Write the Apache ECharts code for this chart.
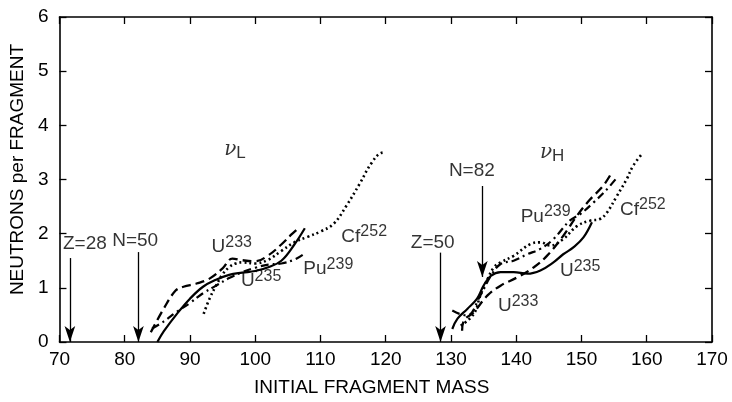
<!DOCTYPE html>
<html><head><meta charset="utf-8">
<script src="https://cdn.jsdelivr.net/npm/echarts@6/dist/echarts.min.js"></script>
<style>html,body{margin:0;padding:0;background:#fff}#c{width:732px;height:402px}</style>
</head><body><div id="c"></div>
<script>
// ---- data ----
const xTicks = [70, 80, 90, 100, 110, 120, 130, 140, 150, 160, 170];
const yTicks = [0, 1, 2, 3, 4, 5, 6];

// light fragment group (nu_L)
const U235_L = [[85,0],[86,0.2],[88,0.52],[90,0.8],[92,1.02],[94,1.15],[96,1.24],[98,1.28],[100,1.31],[102,1.38],[104,1.5],[106,1.8],[107.6,2.1]];
const U233_L = [[84,0.18],[86,0.62],[87.8,0.95],[89,1.02],[91,1.08],[93,1.17],[95,1.36],[96.5,1.54],[98,1.51],[100,1.49],[102,1.6],[104,1.8],[105.6,1.99],[106.8,2.12]];
const Pu239_L = [[84.2,0.25],[86,0.38],[88,0.56],[90,0.72],[92,0.9],[94,1.04],[96,1.18],[98,1.29],[100,1.37],[102,1.43],[104,1.45],[106,1.52],[107.4,1.62]];
const Cf252_L = [[92.1,0.52],[93,0.8],[94,1.04],[95,1.25],[96,1.38],[97,1.45],[98,1.47],[100,1.45],[102,1.52],[104,1.68],[106,1.84],[108,1.94],[110,2.04],[112,2.18],[114,2.52],[116,2.92],[117.8,3.3],[119.3,3.49],[120,3.5]];

// heavy fragment group (nu_H)
const U235_H = [[130.2,0.24],[131,0.43],[132.5,0.61],[134,0.8],[135,1.04],[136.1,1.22],[137.6,1.29],[139.6,1.29],[141.7,1.26],[143.7,1.32],[145.7,1.47],[147.2,1.62],[148.8,1.75],[150.3,1.93],[151.6,2.21]];
const U233_H = [[131.7,0.21],[132,0.4],[133.5,0.55],[135.6,0.86],[137.6,1.04],[140.1,1.19],[142.7,1.38],[144.7,1.59],[147.2,1.96],[149.3,2.33],[151.3,2.63],[153.3,2.88],[154.6,3.12]];
const Pu239_H = [[130.2,0.58],[131.3,0.52],[132.5,0.49],[134.5,0.86],[136.1,1.22],[137.6,1.44],[139.6,1.5],[141.7,1.62],[143.7,1.72],[145.7,1.9],[148.2,2.24],[149.8,2.36],[151.8,2.57],[153.9,2.82],[155.4,3.03]];
const Cf252_H = [[131.5,0.3],[133.5,0.52],[134.5,0.86],[135.6,1.16],[136.6,1.38],[137.6,1.47],[139.6,1.59],[142.2,1.81],[143.7,1.84],[145.2,1.78],[147.2,1.9],[149.3,2.14],[151.3,2.24],[152.8,2.27],[153.9,2.39],[155.4,2.69],[156.9,3.0],[157.9,3.25],[159.2,3.46]];

// shell-closure arrows: [mass, top of arrow]
const arrowMarks = [[71.6,1.55],[82.1,1.66],[128.4,1.65],[134.8,2.88]];
const arrowEnds = [0, 0, 0, 1.2];

// text labels: [x, y, text]
const labelTexts = [
  [73.9,1.81,'Z=28'],[81.6,1.86,'N=50'],[127.2,1.83,'Z=50'],[133.2,3.17,'N=82'],
  [96.4,1.75,'{u|U}{s|233}'],[100.9,1.13,'{u|U}{s|235}'],[111.2,1.35,'{u|Pu}{s|239}'],[116.7,1.95,'{u|Cf}{s|252}'],
  [140.3,0.67,'{u|U}{s|233}'],[149.8,1.31,'{u|U}{s|235}'],[144.5,2.32,'{u|Pu}{s|239}'],[159.4,2.45,'{u|Cf}{s|252}'],
  [96.9,3.55,'{v|ν}{l|L}'],[145.5,3.5,'{v|ν}{l|H}']
];

// ---- chart ----
const FONT = 'Liberation Sans, Arial, Helvetica, sans-serif';
const chart = echarts.init(document.getElementById('c'), null, {renderer:'canvas'});
const styles = {
  solid: {type:'solid', width:2.2},
  dashed: {type:[9,5], width:2.3},
  dashdot: {type:[8,4,2,4], width:2.2},
  dotted: {type:[2,3], width:2.6}
};
function curve(name, data, st) {
  return {name, type:'line', data, smooth:0.4, showSymbol:false, symbol:'none',
    lineStyle:Object.assign({color:'#000'}, st), animation:false, silent:true, z:3};
}
const rich = {
  u:{fontSize:19, fontFamily:FONT, color:'#000'},
  s:{fontSize:16, fontFamily:FONT, color:'#000', verticalAlign:'top', padding:[0,0,9,0]},
  v:{fontSize:20, fontFamily:'DejaVu Serif, serif', fontStyle:'italic', color:'#000'},
  l:{fontSize:17, fontFamily:FONT, color:'#000', padding:[8,0,0,0]}
};
const axisLineStyle = {color:'#000', width:1.6};
const tickStyle = {color:'#000', width:1.3};
const option = {
  animation:false,
  backgroundColor:'#fff',
  grid:{left:57, right:20, top:17, bottom:59},
  xAxis:[
    {type:'value', min:70, max:170, interval:10, position:'bottom',
     axisLine:{show:true, onZero:false, lineStyle:axisLineStyle},
     axisTick:{show:true, inside:true, length:7, lineStyle:tickStyle},
     axisLabel:{fontSize:19, fontFamily:FONT, color:'#000', margin:8, formatter:v=>xTicks.includes(v)?String(v):''},
     splitLine:{show:false},
     name:'INITIAL FRAGMENT MASS', nameLocation:'middle', nameGap:36,
     nameTextStyle:{fontSize:19, fontFamily:FONT, color:'#000', padding:[0,28,0,0]}},
    {type:'value', min:70, max:170, interval:10, position:'top',
     axisLine:{show:true, onZero:false, lineStyle:axisLineStyle},
     axisTick:{show:true, inside:true, length:7, lineStyle:tickStyle},
     axisLabel:{show:false}, splitLine:{show:false}}
  ],
  yAxis:[
    {type:'value', min:0, max:6, interval:1, position:'left',
     axisLine:{show:true, onZero:false, lineStyle:axisLineStyle},
     axisTick:{show:true, inside:true, length:7, lineStyle:tickStyle},
     axisLabel:{fontSize:19, fontFamily:FONT, color:'#000', margin:11, formatter:v=>yTicks.includes(v)?String(v):''},
     splitLine:{show:false},
     name:'NEUTRONS per FRAGMENT', nameLocation:'middle', nameGap:30,
     nameTextStyle:{fontSize:19, fontFamily:FONT, color:'#000', padding:[0,0,0,20]}},
    {type:'value', min:0, max:6, interval:1, position:'right',
     axisLine:{show:true, onZero:false, lineStyle:axisLineStyle},
     axisTick:{show:true, inside:true, length:7, lineStyle:tickStyle},
     axisLabel:{show:false}, splitLine:{show:false}}
  ],
  series:[
    curve('U235 L', U235_L, styles.solid),
    curve('U233 L', U233_L, styles.dashed),
    curve('Pu239 L', Pu239_L, styles.dashdot),
    curve('Cf252 L', Cf252_L, styles.dotted),
    curve('U235 H', U235_H, styles.solid),
    curve('U233 H', U233_H, styles.dashed),
    curve('Pu239 H', Pu239_H, styles.dashdot),
    curve('Cf252 H', Cf252_H, styles.dotted),
    {type:'line', data:[], silent:true, animation:false,
     markLine:{silent:true, animation:false, symbol:['none','arrow'], symbolSize:[8,16],
       label:{show:false}, lineStyle:{color:'#000', width:1.3, type:'solid'},
       data: arrowMarks.map((a,i)=>[{coord:[a[0],a[1]], symbol:'none'},{coord:[a[0],arrowEnds[i]], symbol:'arrow', symbolSize:[8,16]}])}},
    {type:'scatter', symbolSize:0, silent:true, animation:false, z:5,
     data: labelTexts.map(t=>({value:[t[0],t[1]], label:{show:true, position:'inside', formatter:t[2],
       fontSize:19, fontFamily:FONT, color:'#000', rich}}))}
  ]
};
chart.setOption(option);
</script></body></html>
